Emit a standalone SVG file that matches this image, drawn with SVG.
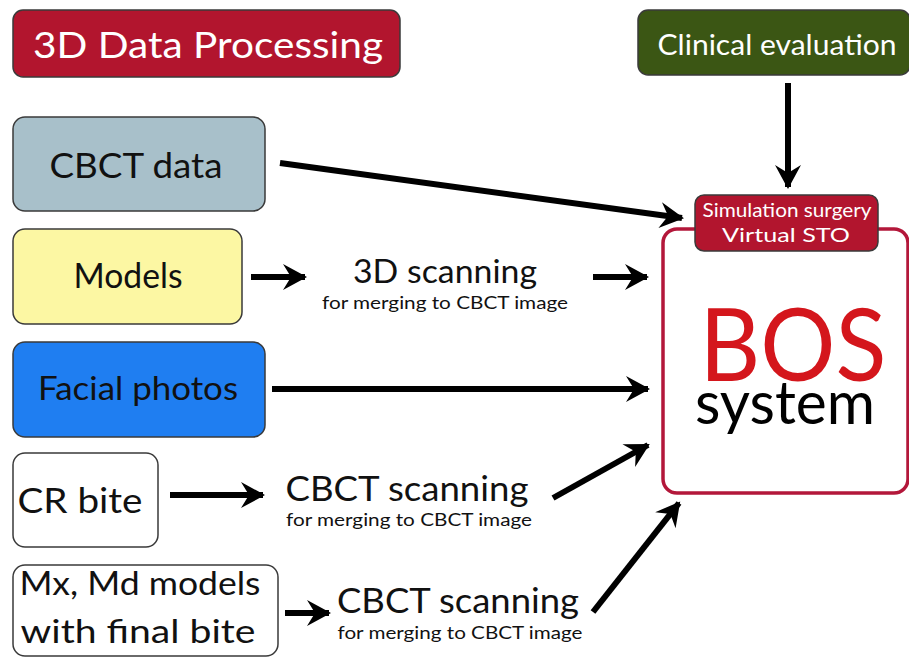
<svg xmlns="http://www.w3.org/2000/svg" width="909" height="657" viewBox="0 0 909 657">
<defs>
<marker id="ah" markerUnits="userSpaceOnUse" markerWidth="30" markerHeight="30" viewBox="-26 -14 30 28" refX="0" refY="0" orient="auto">
<path d="M2,0 L-22,-13 L-14,0 L-22,13 Z" fill="#000"/>
</marker>
<style>
.t{font-family:Lato,"Open Sans","Liberation Sans",sans-serif;text-anchor:middle}
.box{stroke:#3a3a3a;stroke-width:1.5}
.c line{stroke:#000;stroke-width:6;marker-end:url(#ah)}
</style>
</defs>
<rect width="909" height="657" fill="#fff"/>
<g id="title">
<rect x="13" y="10" width="387" height="67" rx="10" fill="#b2152e" class="box"/>
<text class="t" x="208" y="58" font-size="36" fill="#fff" textLength="350" lengthAdjust="spacingAndGlyphs">3D Data Processing</text>
</g>
<g id="clinical">
<rect x="638" y="10" width="272" height="65" rx="10" fill="#3b5614" class="box"/>
<text class="t" x="777" y="55" font-size="28" fill="#fff" textLength="239" lengthAdjust="spacingAndGlyphs">Clinical evaluation</text>
</g>
<g id="bos">
<rect x="663" y="229" width="245" height="264" rx="14" fill="#fff" stroke="#b3173a" stroke-width="3.5"/>
<text class="t" x="793" y="381" font-size="100" fill="#d4161c" textLength="187" lengthAdjust="spacingAndGlyphs">BOS</text>
<text class="t" x="785" y="424" font-size="60" fill="#000" textLength="180" lengthAdjust="spacingAndGlyphs">system</text>
</g>
<g id="sim">
<rect x="695" y="195" width="183" height="56" rx="9" fill="#b2152e" class="box"/>
<text class="t" x="787" y="217" font-size="19" fill="#fff" textLength="169" lengthAdjust="spacingAndGlyphs">Simulation surgery</text>
<text class="t" x="786" y="242" font-size="19" fill="#fff" textLength="128" lengthAdjust="spacingAndGlyphs">Virtual STO</text>
</g>
<g id="cbct">
<rect x="13" y="117" width="252" height="94" rx="12" fill="#a8c0ca" class="box"/>
<text class="t" x="136" y="178" font-size="34" fill="#111" textLength="173" lengthAdjust="spacingAndGlyphs">CBCT data</text>
</g>
<g id="models">
<rect x="13" y="229" width="229" height="95" rx="12" fill="#fcf7a3" class="box"/>
<text class="t" x="128" y="288" font-size="34" fill="#111" textLength="109" lengthAdjust="spacingAndGlyphs">Models</text>
</g>
<g id="facial">
<rect x="13" y="342" width="252" height="95" rx="12" fill="#1f7ef1" class="box"/>
<text class="t" x="138" y="400" font-size="33" fill="#111" textLength="200" lengthAdjust="spacingAndGlyphs">Facial photos</text>
</g>
<g id="crbite">
<rect x="13" y="453" width="145" height="94" rx="12" fill="#fff" class="box"/>
<text class="t" x="80" y="513" font-size="34" fill="#111" textLength="125" lengthAdjust="spacingAndGlyphs">CR bite</text>
</g>
<g id="mx">
<rect x="13" y="565" width="265" height="91" rx="12" fill="#fff" class="box"/>
<text class="t" x="140" y="595" font-size="33" fill="#111" textLength="241" lengthAdjust="spacingAndGlyphs">Mx, Md models</text>
<text class="t" x="138" y="643" font-size="33" fill="#111" textLength="235" lengthAdjust="spacingAndGlyphs">with final bite</text>
</g>
<g id="scan3d">
<text class="t" x="445" y="283" font-size="33" fill="#111" textLength="184" lengthAdjust="spacingAndGlyphs">3D scanning</text>
<text class="t" x="445" y="309" font-size="17" fill="#111" textLength="246" lengthAdjust="spacingAndGlyphs">for merging to CBCT image</text>
</g>
<g id="scan1">
<text class="t" x="407" y="501" font-size="34" fill="#111" textLength="243" lengthAdjust="spacingAndGlyphs">CBCT scanning</text>
<text class="t" x="409" y="526" font-size="17" fill="#111" textLength="246" lengthAdjust="spacingAndGlyphs">for merging to CBCT image</text>
</g>
<g id="scan2">
<text class="t" x="458" y="613" font-size="34" fill="#111" textLength="242" lengthAdjust="spacingAndGlyphs">CBCT scanning</text>
<text class="t" x="460" y="639" font-size="17" fill="#111" textLength="245" lengthAdjust="spacingAndGlyphs">for merging to CBCT image</text>
</g>
<g id="connectors" class="c">
<line x1="788" y1="83" x2="788" y2="187"/>
<line x1="280" y1="163" x2="682" y2="218"/>
<line x1="251" y1="277" x2="305" y2="277"/>
<line x1="593" y1="277" x2="647" y2="277"/>
<line x1="272" y1="389" x2="648" y2="389"/>
<line x1="170" y1="495" x2="263" y2="495"/>
<line x1="553" y1="498" x2="648" y2="445"/>
<line x1="285" y1="613" x2="329" y2="613"/>
<line x1="593" y1="612" x2="679" y2="503"/>
</g>
</svg>
